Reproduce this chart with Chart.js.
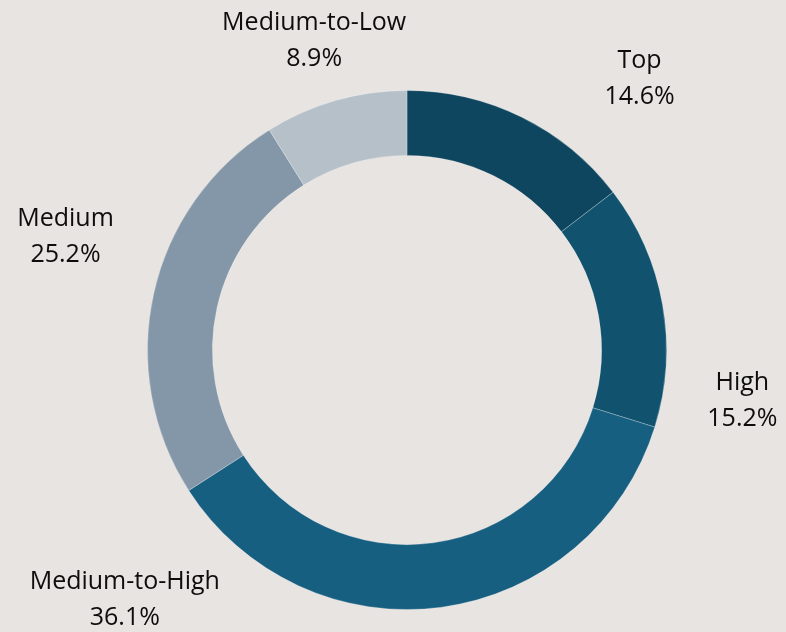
<!DOCTYPE html>
<html>
<head>
<meta charset="utf-8">
<script src="https://cdn.jsdelivr.net/npm/chart.js@4"></script>
<style>
  html, body { margin: 0; padding: 0; background: #e8e4e1; }
  #wrap { width: 786px; height: 632px; position: relative; }
</style>
</head>
<body>
<div id="wrap"><canvas id="c"></canvas></div>
<script>
// Share of each tier
const categories = ['Top', 'High', 'Medium-to-High', 'Medium', 'Medium-to-Low'];
const shares = [14.6, 15.2, 36.1, 25.2, 8.9];

const sliceColors = ['#0e455f', '#11536f', '#175f80', '#8497a8', '#b5c0c9'];

// Where each label block sits: angle (degrees clockwise from 12 o'clock)
// and distance from the centre as a multiple of the outer radius.
const labelPlacement = [
  { angle: 40.6, dist: 1.377 },
  { angle: 98.6, dist: 1.307 },
  { angle: 228.5, dist: 1.452 },
  { angle: 288.3, dist: 1.386 },
  { angle: 343.3, dist: 1.245 }
];

const outsideLabels = {
  id: 'outsideLabels',
  afterDraw(chart) {
    const meta = chart.getDatasetMeta(0);
    const arc = meta.data[0];
    if (!arc) return;
    const cx = arc.x, cy = arc.y, r = arc.outerRadius;
    const ctx = chart.ctx;
    ctx.save();
    ctx.fillStyle = '#0d0d0d';
    ctx.font = '25px "Open Sans", Lato, sans-serif';
    ctx.textAlign = 'center';
    ctx.textBaseline = 'middle';
    const lineH = 36;
    categories.forEach((name, i) => {
      const p = labelPlacement[i];
      const a = p.angle * Math.PI / 180;
      const x = cx + Math.sin(a) * r * p.dist;
      const y = cy - Math.cos(a) * r * p.dist;
      ctx.fillText(name, x, y - lineH / 2);
      ctx.fillText(shares[i].toFixed(1) + '%', x, y + lineH / 2);
    });
    ctx.restore();
  }
};

new Chart(document.getElementById('c'), {
  type: 'doughnut',
  data: {
    labels: categories,
    datasets: [{
      data: shares,
      backgroundColor: sliceColors,
      borderColor: 'rgba(255,255,255,0.25)',
      borderWidth: 1,
      hoverOffset: 0
    }]
  },
  options: {
    responsive: true,
    maintainAspectRatio: false,
    animation: false,
    cutout: '75%',
    layout: { padding: { top: 90, bottom: 22, left: 147, right: 119 } },
    plugins: {
      legend: { display: false },
      tooltip: { enabled: false }
    }
  },
  plugins: [outsideLabels]
});
</script>
</body>
</html>
